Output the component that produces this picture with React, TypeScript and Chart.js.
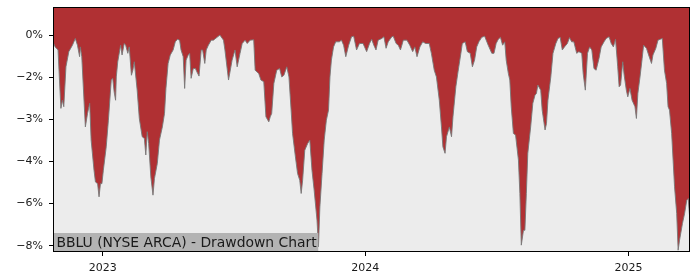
import React, { useEffect, useRef } from "react";
import { Chart, registerables } from "chart.js";
Chart.register(...registerables);

const startDate = "2022-10-24";
const endDay = 885.5;
const dayOffsets = [
  0, 3, 7, 9, 11, 13, 15, 18, 22, 27, 31, 34, 37, 38, 40, 45, 48, 51, 53, 57, 59, 62, 64, 66, 68, 70, 74, 77, 81, 83,
  85, 87, 88, 90, 94, 96, 99, 101, 104, 106, 109, 111, 113, 117, 120, 124, 127, 129, 131, 133, 136, 139, 141, 145, 148,
  152, 155, 157, 160, 163, 167, 170, 173, 176, 178, 181, 183, 185, 188, 190, 192, 195, 198, 200, 203, 206, 208, 211, 213,
  216, 220, 223, 228, 232, 237, 239, 244, 249, 253, 256, 260, 263, 267, 270, 274, 279, 281, 286, 289, 293, 296, 300, 302,
  304, 307, 311, 315, 318, 321, 325, 328, 331, 333, 337, 340, 343, 345, 347, 350, 354, 357, 360, 363, 367, 369, 371, 374,
  377, 380, 383, 385, 387, 390, 393, 398, 401, 404, 407, 411, 415, 418, 422, 426, 431, 436, 440, 443, 446, 449, 452, 457,
  460, 463, 466, 471, 473, 477, 480, 483, 487, 492, 496, 500, 503, 506, 510, 514, 518, 523, 526, 530, 533, 537, 540, 542,
  545, 547, 551, 554, 556, 560, 563, 567, 569, 573, 576, 580, 583, 586, 589, 592, 596, 600, 605, 610, 613, 616, 619, 622,
  625, 628, 630, 633, 635, 637, 640, 643, 647, 649, 651, 654, 656, 658, 660, 664, 667, 670, 672, 674, 678, 680, 684, 686,
  688, 692, 695, 699, 702, 705, 708, 711, 715, 718, 721, 724, 728, 731, 735, 737, 740, 743, 746, 749, 752, 755, 759, 762,
  766, 769, 773, 776, 779, 782, 785, 787, 789, 792, 794, 797, 799, 802, 805, 809, 811, 813, 816, 819, 821, 825, 828, 832,
  834, 838, 841, 844, 847, 850, 853, 855, 857, 860, 862, 864, 867, 869, 871, 875, 878, 881, 883, 885,
];
const drawdownPct = [
  -0.25, -0.42, -0.53, -1.6, -2.61, -2.32, -2.55, -1.13, -0.59, -0.36, -0.12, -0.36, -0.77, -0.42, -0.77, -3.27, -2.79,
  -2.43, -3.74, -4.81, -5.23, -5.29, -5.76, -5.29, -5.29, -4.81, -3.98, -3.03, -1.6, -1.54, -2.02, -2.32, -1.49, -0.95,
  -0.36, -0.71, -0.3, -0.36, -0.65, -0.42, -1.43, -1.25, -0.95, -1.96, -2.97, -3.62, -3.68, -4.27, -3.44, -3.86, -5.05,
  -5.7, -5.11, -4.57, -3.74, -3.27, -2.79, -1.9, -1.01, -0.71, -0.53, -0.24, -0.15, -0.18, -0.53, -0.77, -1.9, -0.89,
  -0.71, -0.65, -1.54, -1.19, -1.19, -1.31, -1.46, -0.53, -0.53, -1.01, -0.53, -0.36, -0.18, -0.18, -0.08, 0, -0.18,
  -0.53, -1.6, -0.89, -0.53, -1.13, -0.65, -0.3, -0.18, -0.3, -0.18, -0.17, -1.25, -1.37, -1.6, -1.66, -2.91, -3.09,
  -2.91, -2.79, -1.72, -1.25, -1.19, -1.49, -1.43, -1.13, -1.49, -2.67, -3.5, -4.34, -4.93, -5.17, -5.64, -5.17, -4.1,
  -3.86, -3.74, -4.81, -5.52, -6.59, -7.54, -6.12, -4.93, -3.74, -3.03, -2.67, -1.49, -0.89, -0.42, -0.24, -0.24, -0.18,
  -0.36, -0.77, -0.36, -0.06, -0.04, -0.53, -0.3, -0.3, -0.59, -0.3, -0.15, -0.36, -0.53, -0.18, -0.12, -0.06, -0.47,
  -0.24, -0.06, -0.04, -0.3, -0.36, -0.53, -0.18, -0.18, -0.36, -0.59, -0.42, -0.77, -0.42, -0.24, -0.3, -0.3, -0.65,
  -1.25, -1.49, -2.32, -3.27, -3.98, -4.21, -3.62, -3.27, -3.62, -2.91, -1.84, -1.31, -0.65, -0.3, -0.24, -0.59, -0.65,
  -1.13, -0.89, -0.42, -0.24, -0.08, -0.04, -0.36, -0.65, -0.65, -0.3, -0.15, -0.08, -0.36, -0.24, -0.89, -1.37, -1.6,
  -2.55, -3.5, -3.56, -4.45, -5.64, -7.48, -6.95, -6.95, -5.64, -4.21, -3.27, -2.43, -2.14, -2.08, -1.78, -1.96, -2.67,
  -3.38, -3.15, -2.32, -1.49, -0.65, -0.3, -0.12, -0.08, -0.53, -0.42, -0.3, -0.09, -0.24, -0.24, -0.65, -0.59, -0.65,
  -1.37, -1.96, -0.65, -0.42, -0.53, -1.19, -1.25, -0.83, -0.42, -0.24, -0.12, -0.06, -0.3, -0.42, -0.15, -1.13, -1.84,
  -1.78, -0.95, -1.43, -1.96, -2.2, -1.9, -2.32, -2.55, -2.97, -2.08, -1.49, -0.83, -0.36, -0.47, -0.71, -1.01, -0.71,
  -0.47, -0.18, -0.15, -0.12, -1.25, -1.72, -2.55, -2.67, -3.5, -4.45, -5.4, -6.35, -7.66, -7.3, -6.71, -6.35, -5.88,
  -5.82, -6.47,
];
const yearTicks = ["2023", "2024", "2025"];
const yTickValues = [0, -1.5, -3, -4.5, -6, -7.5];
const yTickLabels = ["0%", "\u22122%", "\u22123%", "\u22124%", "\u22126%", "\u22128%"];
const titleText = "BBLU (NYSE ARCA) - Drawdown Chart";

const DAY = 86400000;
const startMs = Date.parse(startDate + "T00:00:00Z");
const toDay = (iso: string) => (Date.parse(iso + "T00:00:00Z") - startMs) / DAY;
const yearDays = yearTicks.map((y) => toDay(y + "-01-01"));

export default function App() {
  const ref = useRef<HTMLCanvasElement | null>(null);
  useEffect(() => {
    const canvas = ref.current;
    if (!canvas) return;
    const bgPlugin = {
      id: "bgPlugin",
      beforeDatasetsDraw(chart: any) {
        const { ctx, chartArea: a } = chart;
        ctx.save();
        ctx.fillStyle = "#ececec";
        ctx.fillRect(a.left, a.top, a.right - a.left, a.bottom - a.top);
        ctx.restore();
      },
      afterDatasetsDraw(chart: any) {
        const { ctx, chartArea: a } = chart;
        ctx.save();
        ctx.font = "13.9px 'DejaVu Sans'";
        const w = ctx.measureText(titleText).width;
        ctx.fillStyle = "#b3b3b3";
        ctx.fillRect(a.left, a.bottom - 19, w + 5, 19);
        ctx.fillStyle = "#1a1a1a";
        ctx.textBaseline = "alphabetic";
        ctx.fillText(titleText, a.left + 3.5, a.bottom - 5);
        ctx.restore();
      },
      afterDraw(chart: any) {
        const { ctx, chartArea: a } = chart;
        ctx.save();
        ctx.strokeStyle = "#000";
        ctx.lineWidth = 1;
        ctx.strokeRect(a.left + 0.5, a.top + 0.5, a.right - a.left - 1, a.bottom - a.top - 1);
        ctx.restore();
      },
    };
    const chart = new Chart(canvas, {
      type: "line",
      data: {
        datasets: [
          {
            data: dayOffsets.map((d, i) => ({ x: d, y: drawdownPct[i] })),
            borderColor: "rgba(120,120,120,0.9)",
            borderWidth: 1,
            backgroundColor: "#b03033",
            fill: "end",
            pointRadius: 0,
            tension: 0,
          },
        ],
      },
      options: {
        responsive: false,
        animation: false,
        events: [],
        layout: { padding: { top: 7, right: 10, left: 0, bottom: 0 } },
        plugins: { legend: { display: false }, tooltip: { enabled: false } },
        scales: {
          x: {
            type: "linear",
            min: 0,
            max: endDay,
            afterFit(scale: any) {
              scale.height = 28;
              scale.paddingLeft = 0;
              scale.paddingRight = 0;
            },
            afterBuildTicks(scale: any) {
              scale.ticks = yearDays.map((v) => ({ value: v }));
            },
            grid: { display: true, drawOnChartArea: false, drawTicks: true, tickLength: 4, color: "#000" },
            border: { display: false },
            ticks: {
              autoSkip: false,
              maxRotation: 0,
              padding: 6,
              color: "#1a1a1a",
              font: { family: "'DejaVu Sans'", size: 11 },
              callback: (v: any) => {
                const i = yearDays.findIndex((d) => Math.abs(d - v) < 0.01);
                return i >= 0 ? yearTicks[i] : "";
              },
            },
          },
          y: {
            min: -7.724,
            max: 1.0,
            afterFit(scale: any) {
              scale.width = 53;
              scale.paddingTop = 0;
              scale.paddingBottom = 0;
            },
            afterBuildTicks(scale: any) {
              scale.ticks = yTickValues.map((v) => ({ value: v }));
            },
            grid: { display: true, drawOnChartArea: false, drawTicks: true, tickLength: 4, color: "#000" },
            border: { display: false },
            ticks: {
              autoSkip: false,
              padding: 6,
              color: "#1a1a1a",
              font: { family: "'DejaVu Sans'", size: 11 },
              callback: (v: any) => {
                const i = yTickValues.findIndex((d) => Math.abs(d - v) < 0.001);
                return i >= 0 ? yTickLabels[i] : "";
              },
            },
          },
        },
      },
      plugins: [bgPlugin],
    } as any);
    return () => chart.destroy();
  }, []);
  return (
    <div style={{ position: "absolute", left: 0, top: 0, width: 700, height: 280, background: "#fff" }}>
      <canvas ref={ref} width={700} height={280} style={{ display: "block", width: 700, height: 280 }} />
    </div>
  );
}
